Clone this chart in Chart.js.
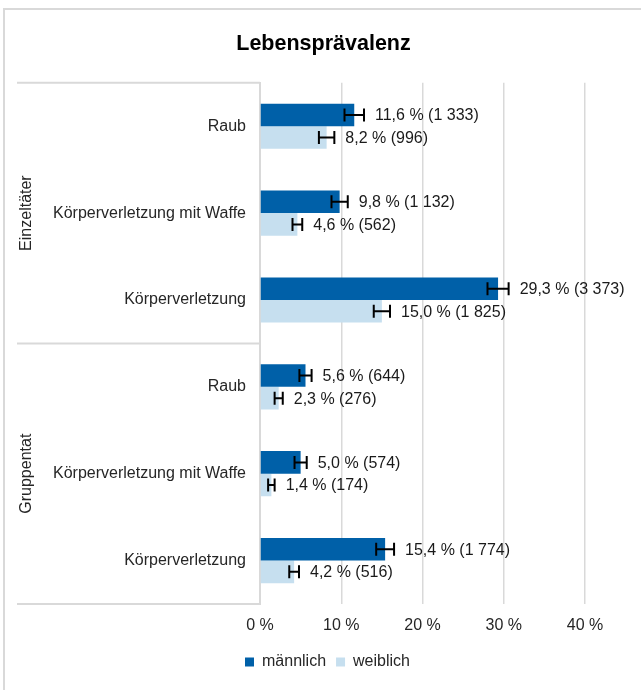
<!DOCTYPE html>
<html>
<head>
<meta charset="utf-8">
<script src="https://cdn.jsdelivr.net/npm/chart.js@4"></script>
<style>
  html, body { margin: 0; padding: 0; background: #fff; }
  #wrap { width: 641px; height: 690px; }
</style>
</head>
<body>
<div id="wrap"><canvas id="chart" width="641" height="690"></canvas></div>
<script>
const categories = ['Raub', 'Körperverletzung mit Waffe', 'Körperverletzung', 'Raub', 'Körperverletzung mit Waffe', 'Körperverletzung'];
const groups = ['Einzeltäter', 'Gruppentat'];
const groupSize = 3;
const maleValues = [11.6, 9.8, 29.3, 5.6, 5.0, 15.4];
const femaleValues = [8.2, 4.6, 15.0, 2.3, 1.4, 4.2];
const maleErrors = [1.2, 1.0, 1.3, 0.75, 0.75, 1.1];
const femaleErrors = [0.95, 0.6, 1.0, 0.5, 0.4, 0.6];
const maleCounts = ['1 333', '1 132', '3 373', '644', '574', '1 774'];
const femaleCounts = ['996', '562', '1 825', '276', '174', '516'];
const xTicks = [0, 10, 20, 30, 40];

const FONT = "'Liberation Sans', Arial, sans-serif";
const GRID = '#D9D9D9';

function fmt(v) {
  return v.toFixed(1).replace('.', ',');
}

// outer frame, group labels and group separator lines
const frame = {
  id: 'frame',
  afterLayout(chart) {
    // title and legend sit a little right of the canvas centre in the original
    chart.titleBlock.left += 11;
    chart.titleBlock.right += 11;
    chart.legend.left += 15;
    chart.legend.right += 15;
  },
  beforeDraw(chart) {
    const ctx = chart.ctx;
    ctx.save();
    ctx.strokeStyle = GRID;
    ctx.lineWidth = 2;
    ctx.strokeRect(4, 9, 700, 700);
    ctx.restore();
  },
  afterDraw(chart) {
    const ctx = chart.ctx;
    const y = chart.scales.y;
    const area = chart.chartArea;
    ctx.save();
    ctx.strokeStyle = GRID;
    ctx.lineWidth = 2;
    const bounds = [area.top];
    for (let g = 1; g < groups.length; g++) {
      const i = g * groupSize;
      bounds.push((y.getPixelForValue(i - 1) + y.getPixelForValue(i)) / 2);
    }
    bounds.push(area.bottom);
    bounds.forEach(b => {
      ctx.beginPath();
      ctx.moveTo(17, b);
      ctx.lineTo(area.left, b);
      ctx.stroke();
    });
    ctx.fillStyle = '#262626';
    ctx.font = '16px ' + FONT;
    ctx.textAlign = 'center';
    ctx.textBaseline = 'middle';
    groups.forEach((name, g) => {
      const mid = (bounds[g] + bounds[g + 1]) / 2;
      ctx.save();
      ctx.translate(27, mid);
      ctx.rotate(-Math.PI / 2);
      ctx.fillText(name, 0, 0);
      ctx.restore();
    });
    ctx.restore();
  }
};

// error bars plus value labels
const errorBars = {
  id: 'errorBars',
  afterDatasetsDraw(chart) {
    const ctx = chart.ctx;
    const x = chart.scales.x;
    const sets = [
      { values: maleValues, errors: maleErrors, counts: maleCounts },
      { values: femaleValues, errors: femaleErrors, counts: femaleCounts }
    ];
    ctx.save();
    ctx.strokeStyle = '#000';
    ctx.lineWidth = 2;
    ctx.font = '16px ' + FONT;
    ctx.fillStyle = '#1a1a1a';
    ctx.textBaseline = 'middle';
    ctx.textAlign = 'left';
    sets.forEach((s, d) => {
      const meta = chart.getDatasetMeta(d);
      meta.data.forEach((bar, i) => {
        const cy = bar.y;
        const lo = x.getPixelForValue(s.values[i] - s.errors[i]);
        const hi = x.getPixelForValue(s.values[i] + s.errors[i]);
        ctx.beginPath();
        ctx.moveTo(lo, cy);
        ctx.lineTo(hi, cy);
        ctx.moveTo(lo, cy - 6.5);
        ctx.lineTo(lo, cy + 6.5);
        ctx.moveTo(hi, cy - 6.5);
        ctx.lineTo(hi, cy + 6.5);
        ctx.stroke();
        ctx.fillText(fmt(s.values[i]) + ' % (' + s.counts[i] + ')', hi + 11, cy + 1);
      });
    });
    ctx.restore();
  }
};

new Chart(document.getElementById('chart'), {
  type: 'bar',
  data: {
    labels: categories,
    datasets: [
      { label: 'männlich', data: maleValues, backgroundColor: '#0060A8', borderWidth: 0 },
      { label: 'weiblich', data: femaleValues, backgroundColor: '#C6DFEF', borderWidth: 0 }
    ]
  },
  options: {
    indexAxis: 'y',
    responsive: false,
    animation: false,
    categoryPercentage: 0.52,
    barPercentage: 1,
    layout: { padding: { top: 10, left: 40, right: 56, bottom: 10 } },
    plugins: {
      title: {
        display: true,
        text: 'Lebensprävalenz',
        color: '#000',
        font: { family: FONT, size: 21.5, weight: 'bold' },
        padding: { top: 21, bottom: 26 }
      },
      legend: {
        position: 'bottom',
        labels: {
          boxWidth: 9,
          boxHeight: 9,
          padding: 10,
          color: '#262626',
          font: { family: FONT, size: 16 }
        }
      },
      tooltip: { enabled: false }
    },
    scales: {
      x: {
        min: 0,
        max: 40,
        afterBuildTicks(scale) {
          scale.ticks = xTicks.map(v => ({ value: v }));
        },
        afterFit(scale) { scale.height = 40; },
        grid: { color: GRID, lineWidth: 1.5, drawTicks: false },
        border: { display: false },
        ticks: {
          padding: 12,
          color: '#262626',
          font: { family: FONT, size: 16 },
          callback: v => v + ' %'
        }
      },
      y: {
        afterFit(scale) { scale.width = 220; },
        grid: { display: false, drawTicks: false },
        border: { display: true, color: GRID, width: 2 },
        ticks: {
          padding: 14,
          autoSkip: false,
          color: '#262626',
          font: { family: FONT, size: 16 }
        }
      }
    }
  },
  plugins: [frame, errorBars]
});
</script>
</body>
</html>
